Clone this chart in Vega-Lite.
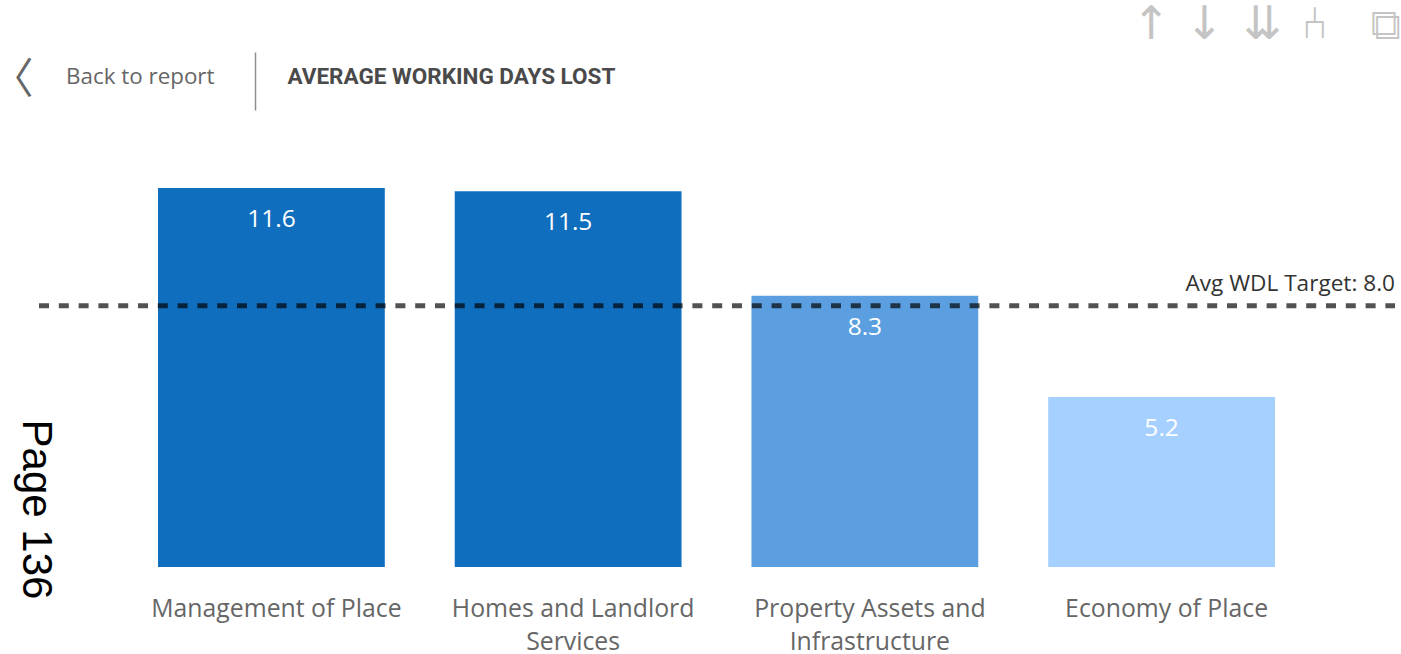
{
"$schema":"https://vega.github.io/schema/vega-lite/v6.json",
"width":1356,"height":437,
"autosize":"none",
"padding":{"left":39,"top":130,"right":6,"bottom":87},
"background":"white",
"config":{"view":{"stroke":null}},
"title":{"text":"Back to report","anchor":"start","frame":"group","dx":27,"dy":119,"offset":32,"font":"Open Sans","fontSize":22.4,"fontWeight":"normal","color":"#666666"},
"datasets":{
"bars":[
{"unit":"Management of Place","days":11.6},
{"unit":"Homes and Landlord Services","days":11.5},
{"unit":"Property Assets and Infrastructure","days":8.3},
{"unit":"Economy of Place","days":5.2}],
"target":[{"name":"Avg WDL Target","target":8.0,"label":"Avg WDL Target: 8.0"}]
},
"resolve":{"axis":{"x":"independent","y":"independent"}},
"encoding":{},
"layer":[
{"data":{"name":"bars"},
"mark":{"type":"bar"},
"encoding":{
"x":{"field":"unit","type":"nominal","sort":null,
"scale":{"range":[84,1271],"paddingInner":0.2357,"paddingOuter":0.118},
"axis":{"orient":"bottom","title":null,"domain":false,"ticks":false,"labelAngle":0,"labelPadding":29,"labelOffset":5,"labelFont":"Open Sans","labelFontSize":24.8,"labelColor":"#666666","labelLineHeight":33,"labelLimit":400,
"labelExpr":"datum.label=='Homes and Landlord Services'?['Homes and Landlord','Services']:datum.label=='Property Assets and Infrastructure'?['Property Assets and','Infrastructure']:datum.label"}},
"y":{"field":"days","type":"quantitative","scale":{"domain":[0,13.376],"nice":false},
"axis":{"orient":"left","domain":false,"ticks":false,"labels":false,"grid":false,"title":"Page 136","titleAngle":90,"titleX":-4,"titleY":379,"titleFont":"Liberation Sans","titleFontSize":42,"titleFontWeight":"normal","titleColor":"#000000","titleAlign":"center","titleBaseline":"middle"}},
"color":{"field":"days","type":"quantitative","legend":null,"scale":{"type":"threshold","domain":[6,10],"range":["#a6d0ff","#5c9fe0","#106ebe"]}}
}},
{"data":{"name":"bars"},
"mark":{"type":"text","dy":32,"baseline":"middle","align":"center","font":"Open Sans","fontSize":24.5,"color":"#ffffff"},
"encoding":{
"x":{"field":"unit","type":"nominal","sort":null,
"axis":{"orient":"top","offset":20,"values":["Management of Place"],"domain":false,"labels":false,"ticks":true,"tickSize":58,"tickWidth":1.5,"tickColor":"#8f8f8f","tickOffset":-16,"title":"AVERAGE WORKING DAYS LOST","titleX":248,"titleY":-34,"titleAlign":"left","titleBaseline":"middle","titleFont":"Roboto","titleFontSize":22.5,"titleFontWeight":"bold","titleColor":"#4a4a4a"}},
"y":{"field":"days","type":"quantitative",
"axis":{"orient":"right","domain":false,"ticks":false,"labels":false,"grid":false,"title":"↑ ↓\u200a ⇊\u200a ⑃\u00a0\u00a0 ⧉","titleAngle":0,"titleX":5,"titleY":-106,"titleAlign":"right","titleBaseline":"middle","titleFont":"DejaVu Sans","titleFontSize":46,"titleFontWeight":"normal","titleColor":"#c4c4c4"}},
"text":{"field":"days","type":"quantitative","format":".1f"}
}},
{"data":{"name":"target"},
"mark":{"type":"rule","stroke":"#000000","strokeOpacity":0.68,"strokeWidth":5,"strokeDash":[10,9.8],"strokeDashOffset":0.4},
"encoding":{
"y":{"field":"target","type":"quantitative",
"axis":{"orient":"left","domain":false,"ticks":false,"labels":false,"grid":false,"title":"〈","titleAngle":0,"titleX":-27,"titleY":-51,"titleAlign":"center","titleBaseline":"middle","titleFont":"Noto Sans CJK SC","titleFontSize":42,"titleFontWeight":"normal","titleColor":"#666666"}}
}},
{"data":{"name":"target"},
"mark":{"type":"text","x":"width","align":"right","baseline":"bottom","dy":-10,"font":"Open Sans","fontSize":22.6,"color":"#333333"},
"encoding":{
"y":{"field":"target","type":"quantitative","axis":null},
"text":{"field":"label","type":"nominal"}
}}
]
}
